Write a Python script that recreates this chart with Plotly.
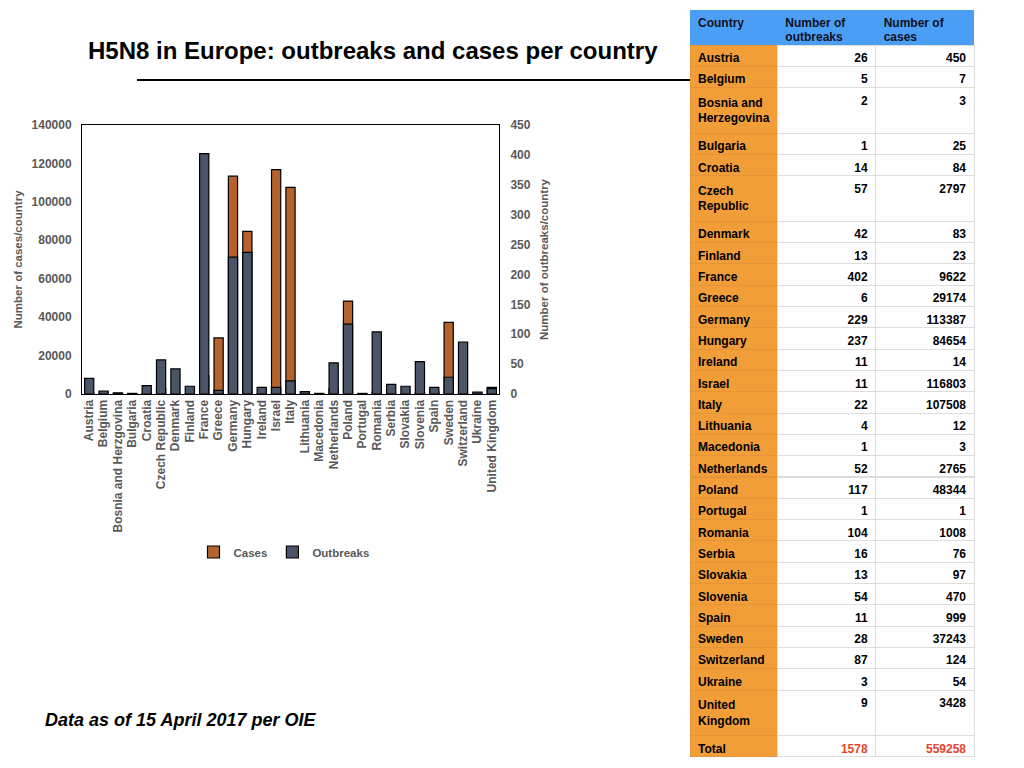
import plotly.graph_objects as go

# H5N8 in Europe, data as of 15 April 2017 (OIE)
countries = ["Austria", "Belgium", "Bosnia and Herzgovina", "Bulgaria", "Croatia",
             "Czech Republic", "Denmark", "Finland", "France", "Greece", "Germany",
             "Hungary", "Ireland", "Israel", "Italy", "Lithuania", "Macedonia",
             "Netherlands", "Poland", "Portugal", "Romania", "Serbia", "Slovakia",
             "Slovenia", "Spain", "Sweden", "Switzerland", "Ukraine", "United Kingdom"]
outbreaks = [26, 5, 2, 1, 14, 57, 42, 13, 402, 6, 229, 237, 11, 11, 22, 4, 1,
             52, 117, 1, 104, 16, 13, 54, 11, 28, 87, 3, 9]
cases = [450, 7, 3, 25, 84, 2797, 83, 23, 9622, 29174, 113387, 84654, 14, 116803,
         107508, 12, 3, 2765, 48344, 1, 1008, 76, 97, 470, 999, 37243, 124, 54, 3428]

# table labels (names wrap in the table)
table_names = ["Austria", "Belgium", "Bosnia and<br>Herzegovina", "Bulgaria", "Croatia",
               "Czech<br>Republic", "Denmark", "Finland", "France", "Greece", "Germany",
               "Hungary", "Ireland", "Israel", "Italy", "Lithuania", "Macedonia",
               "Netherlands", "Poland", "Portugal", "Romania", "Serbia", "Slovakia",
               "Slovenia", "Spain", "Sweden", "Switzerland", "Ukraine", "United<br>Kingdom"]
# header is laid out on thin rows so the two text lines sit close together
header_rows = [["Country", "", "", "", ""],
               ["Number of", "", "outbreaks", "", ""],
               ["Number of", "", "cases", "", ""]]
total_outbreaks = 1578
total_cases = 559258

W, H = 1024, 768
OFF = 8  # page body margin
grey = "#595959"
blue = "#4A9FF5"
orange = "#F19D38"
font = "Liberation Sans, Arial, sans-serif"

def px(x):
    return (x - OFF) / W

def py(y):
    return 1 - (y - OFF) / H

fig = go.Figure()

fig.add_trace(go.Bar(
    x=countries, y=cases, name="Cases", yaxis="y",
    marker=dict(color="#B5622C", line=dict(color="black", width=1.2)),
))
fig.add_trace(go.Bar(
    x=countries, y=outbreaks, name="Outbreaks", yaxis="y2",
    marker=dict(color="#4B5568", line=dict(color="black", width=1.2)),
))

n = len(countries)
red = "#E8452C"
cell_font_color = [["black"] * (n + 1), ["black"] * n + [red], ["black"] * n + [red]]
fig.add_trace(go.Table(
    domain=dict(x=[px(690), px(974)], y=[py(766), py(10)]),
    columnwidth=[87, 98, 98],
    header=dict(
        values=header_rows,
        fill_color="rgba(0,0,0,0)",
        line_color="rgba(0,0,0,0)",
        align="left",
        height=7,
        font=dict(family=font, size=12, color="#111122", weight="bold"),
    ),
    cells=dict(
        values=[table_names + ["Total"],
                outbreaks + [total_outbreaks],
                cases + [total_cases]],
        fill_color=[[orange] * (n + 1), ["white"] * (n + 1), ["white"] * (n + 1)],
        line_color=[["#E5943A"] * (n + 1), ["#DDDDDD"] * (n + 1), ["#DDDDDD"] * (n + 1)],
        align=["left", "right", "right"],
        height=21.3,
        font=dict(family=font, size=12, color=cell_font_color, weight="bold"),
    ),
))

# blue band behind the table header
fig.add_shape(
    type="rect", xref="paper", yref="paper", layer="below",
    x0=px(690), x1=px(974), y0=py(45), y1=py(10),
    fillcolor=blue, line=dict(width=0),
)

tickfont = dict(family=font, size=12, color=grey, weight="bold")
titlefont = dict(family=font, size=11.5, color=grey, weight="bold")

fig.update_layout(
    width=W, height=H,
    margin=dict(l=0, r=0, t=0, b=0, autoexpand=False),
    paper_bgcolor="white",
    plot_bgcolor="white",
    barmode="overlay",
    bargap=0.36,
    font=dict(family=font, size=11, color=grey),
    xaxis=dict(
        domain=[px(82), px(499)],
        tickangle=-90,
        tickfont=tickfont,
        showline=True, linecolor="black", linewidth=1, mirror=True,
        ticks="",
        automargin=False,
    ),
    yaxis=dict(
        domain=[py(394), py(125)],
        range=[0, 140000],
        dtick=20000,
        tickformat="d",
        showgrid=False,
        showline=True, linecolor="black", linewidth=1,
        ticks="outside", ticklen=7, tickcolor="rgba(0,0,0,0)",
        tickfont=tickfont,
        title=dict(text="Number of cases/country", standoff=6, font=titlefont),
        zeroline=False,
        automargin=False,
    ),
    yaxis2=dict(
        overlaying="y", side="right", anchor="x",
        range=[0, 450],
        dtick=50,
        showgrid=False,
        showline=True, linecolor="black", linewidth=1,
        ticks="outside", ticklen=8, tickcolor="rgba(0,0,0,0)",
        tickfont=tickfont,
        title=dict(text="Number of outbreaks/country", standoff=10, font=titlefont),
        zeroline=False,
        automargin=False,
    ),
    legend=dict(
        orientation="h",
        x=px(284), xanchor="center",
        y=py(552), yanchor="middle",
        font=dict(family=font, size=11.5, color=grey, weight="bold"),
        itemwidth=30,
    ),
)

fig.add_annotation(
    text="<b>H5N8 in Europe: outbreaks and cases per country</b>",
    xref="paper", yref="paper", x=px(86), y=py(50),
    xanchor="left", yanchor="middle", showarrow=False,
    font=dict(family=font, size=24, color="black"),
)
fig.add_shape(
    type="line", xref="paper", yref="paper",
    x0=px(137), x1=px(690), y0=py(80), y1=py(80),
    line=dict(color="black", width=2),
)
fig.add_annotation(
    text="<b><i>Data as of 15 April 2017 per OIE</i></b>",
    xref="paper", yref="paper", x=px(43), y=py(720),
    xanchor="left", yanchor="middle", showarrow=False,
    font=dict(family=font, size=18, color="black"),
)

fig.write_html("out.html")
